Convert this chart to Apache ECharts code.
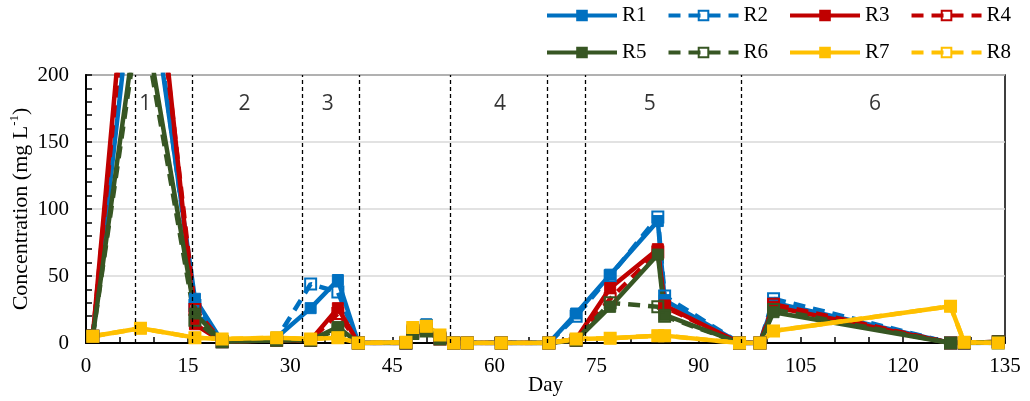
<!DOCTYPE html>
<html>
<head>
<meta charset="utf-8">
<script src="https://cdn.jsdelivr.net/npm/echarts@6/dist/echarts.min.js"></script>
<style>
  html, body { margin: 0; padding: 0; background: #fff; }
  #chart { width: 1030px; height: 401px; }
</style>
</head>
<body>
<div id="chart"></div>
<script>
// Sampling days shared by all reactors
const days = [1, 8, 16, 20, 28, 33, 37, 40, 47, 48, 50, 52, 54, 56, 61, 68, 72, 77, 84, 85, 96, 99, 101, 127, 129, 134];

// Concentration (mg/L) per reactor
const r1 = [5, 320, 33, 1, 4, 26, 47, 0, 0, 10, 14, 4, 0, 0, 0, 0, 22, 51, 91, 32, 0, 0, 30, 0, 0, 0];
const r2 = [5, 330, 28, 1, 3, 44, 38, 0, 0, 9, 13, 4, 0, 0, 0, 0, 20, 50, 94, 35, 0, 0, 33, 0, 0, 0];
const r3 = [5, 400, 14, 1, 2, 2, 26, 0, 0, 8, 11, 3, 0, 0, 0, 0, 3, 41, 70, 28, 0, 0, 27, 0, 0, 1];
const r4 = [5, 380, 25, 1, 2, 2, 22, 0, 0, 8, 10, 3, 0, 0, 0, 0, 2, 33, 68, 27, 0, 0, 29, 0, 0, 1];
const r5 = [5, 260, 22, 1, 2, 2, 12, 0, 0, 8, 9, 3, 0, 0, 0, 0, 2, 27, 66, 21, 0, 0, 23, 0, 0, 1];
const r6 = [5, 250, 17, 1, 2, 2, 10, 0, 0, 7, 9, 3, 0, 0, 0, 0, 2, 30, 27, 20, 0, 0, 25, 0, 0, 1];
const r7 = [5, 11, 4, 3, 4, 3, 4, 0, 0.5, 11.5, 12.5, 6, 0, 0, 0, 0, 3, 3.5, 5.5, 5.5, 0, 0, 9, 27.5, 0.5, 0];
const r8 = [5, 11, 4, 3, 4, 3, 4, 0, 0.5, 11.5, 12.5, 6, 0, 0, 0, 0, 3, 3.5, 5.5, 5.5, 0, 0, 9, 27.5, 0.5, 0];

// Phase boundaries (day) and phase labels
const phaseBounds = [7.2, 15.6, 31.8, 40.2, 53.5, 67.8, 73.3, 96.3];
const phaseNames = ['1', '2', '3', '4', '5', '6'];
const phaseLabelDays = [8.7, 23.3, 35.5, 60.8, 82.8, 115.9];
const phaseLabelLevel = 178;

// Axis ticks
const xTicks = { min: 0, max: 135, step: 15 };
const yTicks = { min: 0, max: 200, step: 50 };

const serif = '"Liberation Serif", "DejaVu Serif", serif';
const sans = '"Open Sans", "Noto Sans", sans-serif';
const BLUE = '#0070C0', RED = '#C00000', GREEN = '#375623', GOLD = '#FFC000';

function reactor(name, values, color, hollow) {
  return {
    name: name,
    type: 'line',
    data: days.map((d, i) => [d, values[i]]),
    symbol: 'rect',
    symbolSize: 11,
    showAllSymbol: true,
    clip: true,
    lineStyle: { color: color, width: 4.5, type: hollow ? [12, 8] : 'solid' },
    itemStyle: hollow
      ? { color: 'rgba(255,255,255,0)', borderColor: color, borderWidth: 2 }
      : { color: color, borderColor: color, borderWidth: 1 },
    emphasis: { disabled: true }
  };
}

const legendBase = {
  itemWidth: 70,
  itemHeight: 12,
  itemGap: 20,
  left: 545,
  width: 480,
  padding: 0,
  orient: 'horizontal',
  lineStyle: { width: 4 },
  textStyle: { fontFamily: serif, fontSize: 21, color: '#000' },
  selectedMode: false
};

const chart = echarts.init(document.getElementById('chart'), null, { renderer: 'canvas' });

chart.setOption({
  animation: false,
  backgroundColor: '#fff',
  legend: [
    Object.assign({}, legendBase, { top: 5, data: ['R1', 'R2', 'R3', 'R4'] }),
    Object.assign({}, legendBase, { top: 42, data: ['R5', 'R6', 'R7', 'R8'] })
  ],
  grid: {
    left: 86, right: 25, top: 75, bottom: 58,
    outerBoundsMode: 'none',
    containLabel: false,
    show: true, borderColor: '#000', borderWidth: 1.5
  },
  xAxis: {
    type: 'value',
    min: xTicks.min, max: xTicks.max, interval: xTicks.step,
    name: 'Day',
    nameLocation: 'middle',
    nameGap: 32,
    nameMoveOverlap: false,
    nameTextStyle: { fontFamily: serif, fontSize: 21, color: '#000' },
    axisLine: { show: true, onZero: false, lineStyle: { color: '#000', width: 2 } },
    axisTick: { show: true, inside: true, length: 6, lineStyle: { color: '#000', width: 1.5 } },
    minorTick: { show: true, splitNumber: 3, length: 6, lineStyle: { color: '#000', width: 1.5 } },
    splitLine: { show: false },
    axisLabel: { fontFamily: serif, fontSize: 21, color: '#000', margin: 13 }
  },
  yAxis: {
    type: 'value',
    min: yTicks.min, max: yTicks.max, interval: yTicks.step,
    name: '{a|Concentration (mg L}{s|-1}{a|)}',
    nameLocation: 'middle',
    nameRotate: 90,
    nameGap: 52,
    nameMoveOverlap: false,
    nameTextStyle: {
      rich: {
        a: { fontFamily: serif, fontSize: 22, color: '#000', lineHeight: 26 },
        s: { fontFamily: serif, fontSize: 13, color: '#000', verticalAlign: 'top', lineHeight: 15 }
      }
    },
    axisLine: { show: true, lineStyle: { color: '#000', width: 2 } },
    axisTick: { show: true, inside: true, length: 6, lineStyle: { color: '#000', width: 1.5 } },
    minorTick: { show: true, splitNumber: 5, length: 6, lineStyle: { color: '#000', width: 1.5 } },
    splitLine: { show: true, lineStyle: { color: '#D9D9D9', width: 1.5 } },
    axisLabel: { fontFamily: serif, fontSize: 21, color: '#000', margin: 17 }
  },
  series: [
    {
      name: 'phases',
      type: 'scatter',
      symbolSize: 0,
      silent: true,
      z: 1,
      data: phaseNames.map((n, i) => [phaseLabelDays[i], phaseLabelLevel, n]),
      label: {
        show: true,
        position: 'inside',
        formatter: p => p.data[2],
        fontFamily: sans,
        fontSize: 21,
        color: '#000'
      },
      markLine: {
        silent: true,
        symbol: 'none',
        label: { show: false },
        lineStyle: { color: '#000', width: 1.3, type: [4, 3] },
        data: phaseBounds.map(d => ({ xAxis: d }))
      }
    },
    reactor('R1', r1, BLUE, false),
    reactor('R2', r2, BLUE, true),
    reactor('R3', r3, RED, false),
    reactor('R4', r4, RED, true),
    reactor('R5', r5, GREEN, false),
    reactor('R6', r6, GREEN, true),
    reactor('R8', r8, GOLD, true),
    reactor('R7', r7, GOLD, false)
  ]
});
</script>
</body>
</html>
